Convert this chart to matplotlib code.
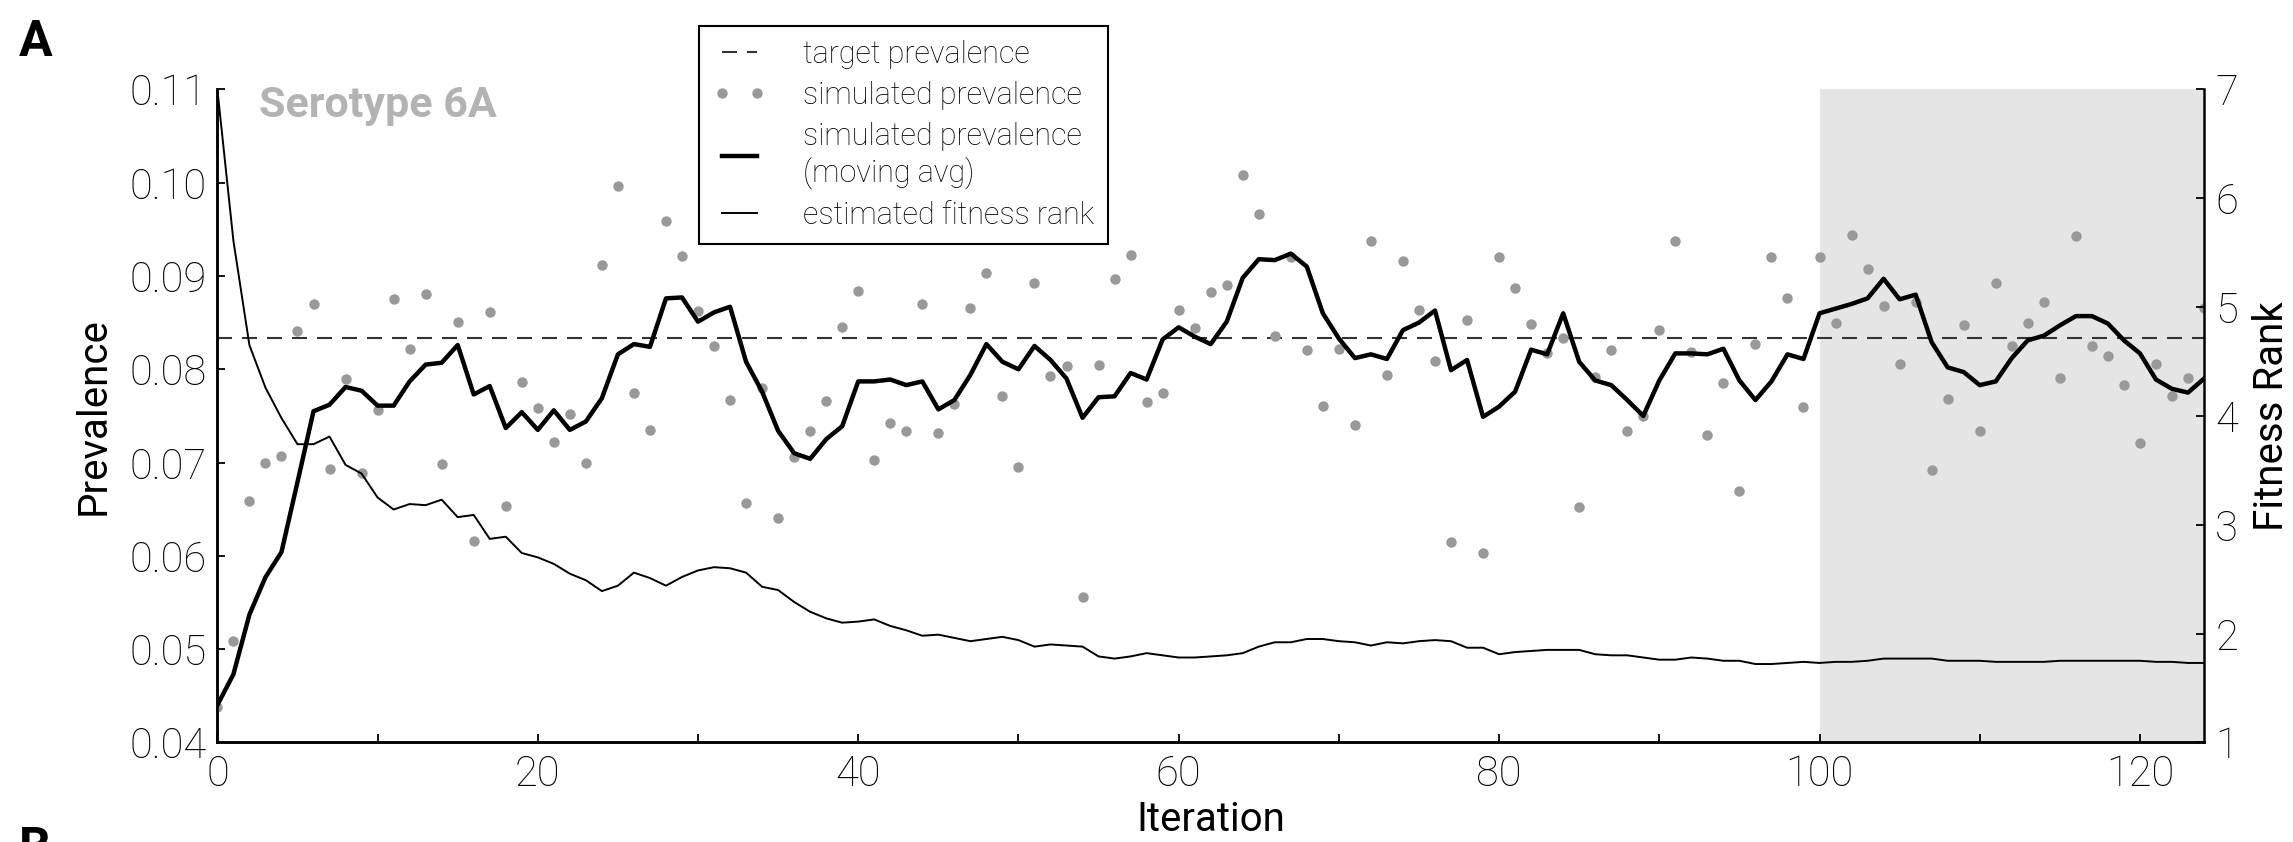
import numpy as np
import matplotlib
matplotlib.use("Agg")
import matplotlib.pyplot as plt
from matplotlib.ticker import MultipleLocator

plt.rcParams['font.family'] = ['Roboto', 'DejaVu Sans']
plt.rcParams['font.weight'] = 'light'

# data
iteration = np.arange(125)

target_prevalence = 0.0834

sim_prev = [
    0.0438, 0.0509, 0.0659, 0.0699, 0.0707, 0.0841, 0.0870, 0.0693, 0.0790, 0.0689,
    0.0756, 0.0875, 0.0822, 0.0881, 0.0698, 0.0851, 0.0616, 0.0861, 0.0653, 0.0786,
    0.0759, 0.0722, 0.0752, 0.0699, 0.0912, 0.0996, 0.0775, 0.0735, 0.0959, 0.0921,
    0.0862, 0.0825, 0.0767, 0.0657, 0.0780, 0.0641, 0.0706, 0.0734, 0.0766, 0.0845,
    0.0884, 0.0703, 0.0742, 0.0734, 0.0870, 0.0732, 0.0763, 0.0866, 0.0903, 0.0771,
    0.0695, 0.0893, 0.0793, 0.0803, 0.0556, 0.0805, 0.0897, 0.0922, 0.0765, 0.0775,
    0.0864, 0.0844, 0.0883, 0.0890, 0.1008, 0.0966, 0.0836, 0.0920, 0.0821, 0.0761,
    0.0822, 0.0740, 0.0938, 0.0794, 0.0916, 0.0863, 0.0809, 0.0615, 0.0853, 0.0603,
    0.0920, 0.0887, 0.0848, 0.0817, 0.0833, 0.0652, 0.0792, 0.0821, 0.0734, 0.0750,
    0.0842, 0.0938, 0.0819, 0.0730, 0.0785, 0.0669, 0.0827, 0.0920, 0.0876, 0.0760,
    0.0920, 0.0850, 0.0944, 0.0907, 0.0868, 0.0806, 0.0872, 0.0692, 0.0768, 0.0847,
    0.0734, 0.0893, 0.0825, 0.0850, 0.0872, 0.0791, 0.0943, 0.0825, 0.0814, 0.0783,
    0.0721, 0.0806, 0.0771, 0.0791, 0.0866,
]

moving_avg = [
    0.0440, 0.0473, 0.0537, 0.0577, 0.0604, 0.0679, 0.0755, 0.0762, 0.0781, 0.0777,
    0.0761, 0.0761, 0.0787, 0.0805, 0.0807, 0.0826, 0.0773, 0.0782, 0.0737, 0.0754,
    0.0735, 0.0756, 0.0735, 0.0744, 0.0769, 0.0816, 0.0827, 0.0824, 0.0876, 0.0877,
    0.0851, 0.0861, 0.0867, 0.0808, 0.0776, 0.0734, 0.0710, 0.0704, 0.0725, 0.0739,
    0.0787, 0.0787, 0.0789, 0.0783, 0.0787, 0.0757, 0.0767, 0.0794, 0.0827, 0.0808,
    0.0800, 0.0825, 0.0810, 0.0790, 0.0748, 0.0770, 0.0771, 0.0796, 0.0789, 0.0832,
    0.0845, 0.0835, 0.0827, 0.0851, 0.0898, 0.0918, 0.0917, 0.0924, 0.0910, 0.0860,
    0.0833, 0.0812, 0.0816, 0.0811, 0.0842, 0.0850, 0.0863, 0.0799, 0.0810, 0.0749,
    0.0760, 0.0776, 0.0821, 0.0816, 0.0860, 0.0808, 0.0788, 0.0783, 0.0767, 0.0750,
    0.0788, 0.0817, 0.0817, 0.0816, 0.0822, 0.0788, 0.0767, 0.0787, 0.0816, 0.0811,
    0.0860, 0.0865, 0.0870, 0.0876, 0.0897, 0.0875, 0.0880, 0.0829, 0.0802, 0.0797,
    0.0783, 0.0787, 0.0812, 0.0831, 0.0836, 0.0847, 0.0857, 0.0857, 0.0849, 0.0831,
    0.0817, 0.0789, 0.0779, 0.0775, 0.0790,
]

fitness_rank = [
    7.00, 5.61, 4.65, 4.26, 3.98, 3.74, 3.74, 3.81, 3.55, 3.47,
    3.25, 3.14, 3.19, 3.18, 3.23, 3.07, 3.09, 2.87, 2.89, 2.74,
    2.70, 2.64, 2.55, 2.49, 2.39, 2.44, 2.56, 2.51, 2.44, 2.52,
    2.58, 2.61, 2.60, 2.56, 2.43, 2.40, 2.29, 2.20, 2.14, 2.10,
    2.11, 2.13, 2.07, 2.03, 1.98, 1.99, 1.96, 1.93, 1.95, 1.97,
    1.94, 1.88, 1.90, 1.89, 1.88, 1.79, 1.77, 1.79, 1.82, 1.80,
    1.78, 1.78, 1.79, 1.80, 1.82, 1.88, 1.92, 1.92, 1.95, 1.95,
    1.93, 1.92, 1.89, 1.92, 1.91, 1.93, 1.94, 1.93, 1.87, 1.87,
    1.81, 1.83, 1.84, 1.85, 1.85, 1.85, 1.81, 1.80, 1.80, 1.78,
    1.76, 1.76, 1.78, 1.77, 1.75, 1.75, 1.72, 1.72, 1.73, 1.74,
    1.73, 1.74, 1.74, 1.75, 1.77, 1.77, 1.77, 1.77, 1.75, 1.75,
    1.75, 1.74, 1.74, 1.74, 1.74, 1.75, 1.75, 1.75, 1.75, 1.75,
    1.75, 1.74, 1.74, 1.73, 1.73,
]

shade_start = 100

fig = plt.figure(figsize=(22.93, 8.42), dpi=100)
ax = fig.add_axes([0.0948, 0.1183, 0.8664, 0.7755])
ax2 = ax.twinx()

ax.axvspan(shade_start, 124, color='#e5e5e5', lw=0, zorder=0)
h_target = ax.axhline(target_prevalence, color='#333333', lw=1.5,
                      ls=(0, (7.2, 4.8)), zorder=2)
h_sim, = ax.plot(iteration, sim_prev, 'o', color='#999999', ms=7.5, mec='none', zorder=3)
h_avg, = ax.plot(iteration, moving_avg, color='black', lw=3.2, zorder=4)
h_rank, = ax2.plot(iteration, fitness_rank, color='black', lw=1.4)

ax.set_xlim(0, 124)
ax.set_ylim(0.04, 0.11)
ax2.set_ylim(1, 7)
ax.set_yticks(np.arange(0.04, 0.1101, 0.01))
ax.set_yticklabels(['%.2f' % v for v in np.arange(0.04, 0.1101, 0.01)])
ax2.set_yticks(range(1, 8))
ax.xaxis.set_major_locator(MultipleLocator(20))
ax.xaxis.set_minor_locator(MultipleLocator(10))

for a in (ax, ax2):
    a.spines['top'].set_visible(False)
    for s in a.spines.values():
        s.set_linewidth(1.8)
ax.spines['right'].set_visible(False)

ax.tick_params(axis='both', which='both', direction='in', length=6, width=1.3,
               labelsize=30, pad=8)
ax.tick_params(top=False, right=False)
ax2.tick_params(axis='y', direction='in', length=6, width=1.3, labelsize=30, pad=8)

ax.set_xlabel('Iteration', fontsize=29, fontweight='normal', labelpad=4)
ax.set_ylabel('Prevalence', fontsize=29, fontweight='normal', labelpad=12)
ax2.set_ylabel('Fitness Rank', fontsize=29, fontweight='normal', labelpad=10)

ax.text(0.021, 0.975, 'Serotype 6A', transform=ax.transAxes, fontsize=31,
        fontweight='bold', color='#b3b3b3', va='center', ha='left')

fig.text(0.0083, 0.9335, 'A', fontsize=36, fontweight='bold', va='baseline')
fig.text(0.0083, -0.025, 'B', fontsize=36, fontweight='bold', va='baseline')

leg = fig.legend([h_target, h_sim, h_avg, h_rank],
                 ['target prevalence', 'simulated prevalence',
                  'simulated prevalence\n(moving avg)', 'estimated fitness rank'],
                 loc='upper left', bbox_to_anchor=(0.305, 0.969), fontsize=22,
                 numpoints=2, handlelength=1.75, handletextpad=1.2,
                 borderpad=0.45, labelspacing=0.4, fancybox=False, framealpha=1,
                 edgecolor='black', borderaxespad=0)
leg.get_frame().set_linewidth(1.5)

fig.savefig('out.png', dpi=100)
